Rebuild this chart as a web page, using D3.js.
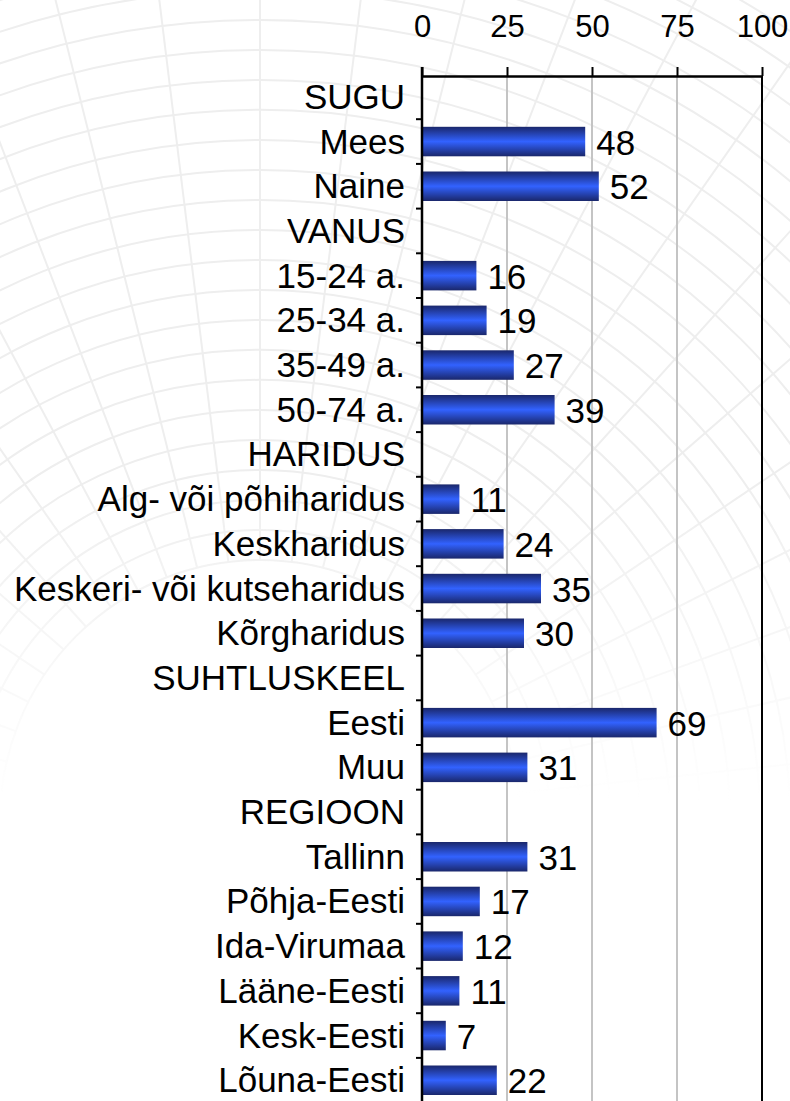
<!DOCTYPE html>
<html>
<head>
<meta charset="utf-8">
<script src="https://cdn.jsdelivr.net/npm/d3@7"></script>
<style>
	html, body { margin: 0; padding: 0; background: #fff; }
	svg { display: block; font-family: "Liberation Sans", Arial, sans-serif; }
</style>
</head>
<body>
<svg id="viz"></svg>
<script>
// categories top to bottom, null = group heading without bar
var categories = ["SUGU", "Mees", "Naine", "VANUS", "15-24 a.", "25-34 a.", "35-49 a.", "50-74 a.",
	"HARIDUS", "Alg- või põhiharidus", "Keskharidus", "Keskeri- või kutseharidus", "Kõrgharidus",
	"SUHTLUSKEEL", "Eesti", "Muu", "REGIOON", "Tallinn", "Põhja-Eesti", "Ida-Virumaa",
	"Lääne-Eesti", "Kesk-Eesti", "Lõuna-Eesti"];
var values = [null, 48, 52, null, 16, 19, 27, 39, null, 11, 24, 35, 30, null, 69, 31, null, 31, 17, 12, 11, 7, 22];
var tickLabels = [0, 25, 50, 75, 100];

var width = 790, height = 1101,
	axisY = 76, step = 44.7, top0 = 74.5;

var svg = d3.select("#viz").attr("width", width).attr("height", height);
var defs = svg.append("defs");

var data = categories.map(function (c, i) { return {cat: c, value: values[i]}; });

var x = d3.scaleLinear().domain([0, 100]).range([422, 762]);
var y = d3.scaleBand()
	.domain(categories)
	.range([top0, top0 + step * categories.length])
	.paddingInner(0.34)
	.paddingOuter(0.17);

// faint globe-like watermark, fading out downwards
var fade = defs.append("linearGradient").attr("id", "fade")
	.attr("gradientUnits", "userSpaceOnUse")
	.attr("x1", 0).attr("y1", 0).attr("x2", 0).attr("y2", 800);
fade.append("stop").attr("offset", "0%").attr("stop-color", "#fff");
fade.append("stop").attr("offset", "60%").attr("stop-color", "#fff");
fade.append("stop").attr("offset", "100%").attr("stop-color", "#000");
defs.append("mask").attr("id", "wmMask")
	.attr("maskUnits", "userSpaceOnUse").attr("x", 0).attr("y", 0).attr("width", width).attr("height", height)
	.append("rect").attr("width", width).attr("height", height).attr("fill", "url(#fade)");

var bg = svg.append("g").attr("class", "watermark").attr("mask", "url(#wmMask)")
	.attr("fill", "none").attr("stroke", "#eeeeee").attr("stroke-width", 2);
var cx = 260, cy = 820;
d3.range(260, 1000, 30).forEach(function (r) {
	bg.append("path")
		.attr("d", d3.arc()({innerRadius: r, outerRadius: r, startAngle: -Math.PI / 2, endAngle: Math.PI / 2})
			.split("L")[0])
		.attr("transform", "translate(" + cx + "," + cy + ")");
});
d3.range(-84, 85, 7).forEach(function (a) {
	var rad = a * Math.PI / 180;
	bg.append("line")
		.attr("x1", cx + Math.sin(rad) * 260).attr("y1", cy - Math.cos(rad) * 260)
		.attr("x2", cx + Math.sin(rad) * 1000).attr("y2", cy - Math.cos(rad) * 1000);
});

// bar gradient
var grad = defs.append("linearGradient")
	.attr("id", "barGrad").attr("x1", 0).attr("y1", 0).attr("x2", 0).attr("y2", 1);
grad.append("stop").attr("offset", "0%").attr("stop-color", "#1a276b");
grad.append("stop").attr("offset", "50%").attr("stop-color", "#3262ff");
grad.append("stop").attr("offset", "100%").attr("stop-color", "#1a276b");

// gridlines
svg.append("g").selectAll("line")
	.data([25, 50, 75])
	.enter().append("line")
	.attr("x1", function (d) { return x(d); }).attr("x2", function (d) { return x(d); })
	.attr("y1", axisY).attr("y2", height)
	.attr("stroke", "#c4c4c4").attr("stroke-width", 2);
svg.append("line")
	.attr("x1", x(100)).attr("x2", x(100))
	.attr("y1", axisY).attr("y2", height)
	.attr("stroke", "#000").attr("stroke-width", 2);

// bars
svg.append("g").selectAll("rect")
	.data(data.filter(function (d) { return d.value != null; }))
	.enter().append("rect")
	.attr("x", x(0))
	.attr("y", function (d) { return y(d.cat); })
	.attr("width", function (d) { return x(d.value) - x(0); })
	.attr("height", y.bandwidth())
	.attr("fill", "url(#barGrad)");

// value labels
svg.append("g").selectAll("text")
	.data(data.filter(function (d) { return d.value != null; }))
	.enter().append("text")
	.attr("x", function (d) { return x(d.value) + 11; })
	.attr("y", function (d) { return y(d.cat) + y.bandwidth() / 2 + 13; })
	.attr("font-size", 35)
	.attr("fill", "#000")
	.text(function (d) { return d.value; });

// top axis
var xAxis = svg.append("g")
	.attr("transform", "translate(0," + axisY + ")")
	.call(d3.axisTop(x).tickValues(tickLabels).tickSize(9).tickSizeOuter(0).tickPadding(30));
xAxis.attr("font-size", null).attr("font-family", null);
xAxis.select(".domain").attr("stroke", "#000").attr("stroke-width", 2.5);
xAxis.selectAll(".tick line").attr("stroke", "#000").attr("stroke-width", 2);
xAxis.selectAll(".tick text")
	.style("font-size", "31px")
	.style("font-family", "'Liberation Sans', Arial, sans-serif")
	.attr("fill", "#000");

// left axis: line, ticks between categories, labels
svg.append("line")
	.attr("x1", x(0)).attr("x2", x(0))
	.attr("y1", axisY - 9).attr("y2", height)
	.attr("stroke", "#000").attr("stroke-width", 2.5);
svg.append("g").selectAll("line")
	.data(categories.slice(1))
	.enter().append("line")
	.attr("x1", x(0) - 6).attr("x2", x(0))
	.attr("y1", function (d) { return y(d) - y.step() * 0.17; })
	.attr("y2", function (d) { return y(d) - y.step() * 0.17; })
	.attr("stroke", "#000").attr("stroke-width", 2);
svg.append("g").selectAll("text")
	.data(categories)
	.enter().append("text")
	.attr("x", x(0) - 17)
	.attr("y", function (d) { return y(d) + y.bandwidth() / 2 + 12; })
	.attr("text-anchor", "end")
	.attr("font-size", 35)
	.attr("fill", "#000")
	.text(function (d) { return d; });
</script>
</body>
</html>
